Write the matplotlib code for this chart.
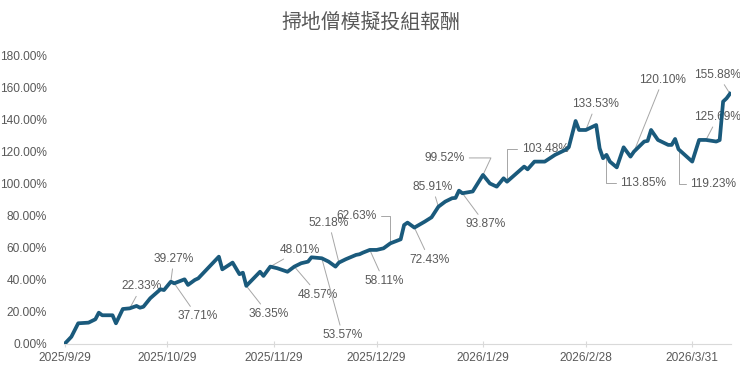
import matplotlib
matplotlib.use("Agg")
import matplotlib.pyplot as plt
import pandas as pd

plt.rcParams['font.family'] = ['Liberation Sans', 'Noto Sans CJK TC', 'DejaVu Sans']

# portfolio cumulative return (%)
dates = [
    "2025-09-29", "2025-10-01", "2025-10-03", "2025-10-06", "2025-10-08", "2025-10-09",
    "2025-10-10", "2025-10-13", "2025-10-14", "2025-10-16", "2025-10-18", "2025-10-20",
    "2025-10-21", "2025-10-22", "2025-10-24", "2025-10-27", "2025-10-28", "2025-10-30",
    "2025-10-31", "2025-11-03", "2025-11-04", "2025-11-06", "2025-11-07", "2025-11-13",
    "2025-11-14", "2025-11-17", "2025-11-19", "2025-11-20", "2025-11-21", "2025-11-25",
    "2025-11-26", "2025-11-28", "2025-11-30", "2025-12-03", "2025-12-05", "2025-12-07",
    "2025-12-09", "2025-12-10", "2025-12-13", "2025-12-15", "2025-12-17", "2025-12-18",
    "2025-12-20", "2025-12-23", "2025-12-24", "2025-12-25", "2025-12-27", "2025-12-29",
    "2025-12-31", "2026-01-02", "2026-01-05", "2026-01-06", "2026-01-07", "2026-01-09",
    "2026-01-12", "2026-01-14", "2026-01-16", "2026-01-18", "2026-01-20", "2026-01-21",
    "2026-01-22", "2026-01-23", "2026-01-26", "2026-01-29", "2026-01-31", "2026-02-02",
    "2026-02-04", "2026-02-05", "2026-02-10", "2026-02-11", "2026-02-13", "2026-02-16",
    "2026-02-19", "2026-02-22", "2026-02-23", "2026-02-25", "2026-02-26", "2026-02-28",
    "2026-03-03", "2026-03-04", "2026-03-05", "2026-03-06", "2026-03-07", "2026-03-09",
    "2026-03-11", "2026-03-13", "2026-03-14", "2026-03-17", "2026-03-18", "2026-03-19",
    "2026-03-21", "2026-03-24", "2026-03-25", "2026-03-26", "2026-03-27", "2026-03-31",
    "2026-04-02", "2026-04-04", "2026-04-07", "2026-04-08", "2026-04-09", "2026-04-10",
    "2026-04-11",
]
returns = [
    0.0, 4.5, 12.9, 13.3, 15.4, 19.5,
    17.9, 17.9, 12.9, 21.8, 22.2, 23.7,
    22.6, 23.2, 28.5, 34.1, 33.6, 38.8,
    37.8, 40.3, 36.8, 39.9, 40.9, 54.4,
    46.5, 50.7, 43.5, 44.4, 36.2, 45.0,
    42.4, 48.2, 47.2, 45.0, 48.2, 50.3,
    51.3, 54.0, 53.4, 51.3, 48.2, 50.7,
    52.8, 55.5, 55.9, 56.9, 58.6, 58.6,
    59.6, 62.7, 65.2, 74.1, 75.6, 72.5,
    76.2, 78.9, 85.5, 88.7, 90.8, 91.0,
    95.5, 93.9, 95.0, 105.3, 100.0, 98.0,
    103.2, 101.1, 110.5, 108.8, 113.6, 113.6,
    117.8, 120.9, 122.5, 138.9, 133.3, 133.3,
    136.4, 121.9, 115.7, 117.8, 113.6, 110.0,
    122.5, 116.7, 119.8, 126.1, 126.5, 133.3,
    127.1, 124.0, 124.0, 127.7, 121.3, 113.6,
    127.1, 127.1, 126.1, 127.0, 151.0, 153.0,
    155.88,
]

# data labels: text and the series date they point at
label_texts = ["22.33%", "39.27%", "37.71%", "36.35%", "48.01%", "48.57%", "53.57%",
               "52.18%", "62.63%", "58.11%", "72.43%", "85.91%", "93.87%", "99.52%",
               "103.48%", "133.53%", "113.85%", "120.10%", "119.23%", "125.69%", "155.88%"]
label_dates = ["2025-10-18", "2025-10-30", "2025-10-31", "2025-11-21", "2025-11-28",
               "2025-12-05", "2025-12-13", "2025-12-18", "2026-01-02", "2025-12-27",
               "2026-01-09", "2026-01-16", "2026-01-23", "2026-01-29", "2026-02-05",
               "2026-02-28", "2026-03-06", "2026-03-14", "2026-03-27", "2026-04-04",
               "2026-04-11"]

tick_dates = ["2025-09-29", "2025-10-29", "2025-11-29", "2025-12-29",
              "2026-01-29", "2026-02-28", "2026-03-31"]

# layout of the labels (pixel offsets of text centre) and leader style
offsets = [(12, 22), (3, 23), (23, -33), (22, -28), (30, 17), (24, -28), (21, -77),
           (-10, 40), (-34, 27), (14, -31), (15, -32), (-6, 20), (23, -31), (-38, 17),
           (38, 33), (10, 26), (37, -28), (29, 72), (35, -35), (12, 23), (-12, 19)]
elbow = {"62.63%": 90, "99.52%": 65, "103.48%": 90, "113.85%": 90, "119.23%": 90}

x = pd.to_datetime(dates)
series = pd.Series(returns, index=x)

fig = plt.figure(figsize=(7.4, 3.74), dpi=100)
ax = fig.add_axes([63.5 / 740, 30 / 374, 667.5 / 740, 289 / 374])

ax.plot(x, returns, color='#1a5a7c', linewidth=2.7, solid_joinstyle='round', zorder=3)

gray = '#595959'
for txt, d, (dx, dy) in zip(label_texts, label_dates, offsets):
    dd = pd.Timestamp(d)
    cs = "arc3"
    if txt in elbow:
        cs = "angle,angleA=0,angleB=%d,rad=0" % elbow[txt]
    ax.annotate(txt, xy=(dd, series[dd]), xytext=(dx, dy), textcoords='offset pixels',
                ha='center', va='center', fontsize=8.6, color=gray, zorder=2,
                arrowprops=dict(arrowstyle='-', color='#a6a6a6', lw=0.7,
                                shrinkA=1, shrinkB=1, connectionstyle=cs))

x0 = pd.Timestamp(dates[0])
ax.set_xlim(x0 - pd.Timedelta(hours=7), x0 + pd.Timedelta(days=194.3))
ax.set_ylim(0, 180)
ax.set_yticks(range(0, 181, 20))
ax.yaxis.set_major_formatter(plt.FuncFormatter(lambda v, p: "%.2f%%" % v))

td = pd.to_datetime(tick_dates)
ax.set_xticks(td)
ax.set_xticklabels(["%d/%d/%d" % (t.year, t.month, t.day) for t in td])

for s in ['top', 'right', 'left']:
    ax.spines[s].set_visible(False)
ax.spines['bottom'].set_color('#d9d9d9')
ax.tick_params(axis='y', length=0, pad=12, labelsize=8.6, labelcolor=gray)
ax.tick_params(axis='x', direction='inout', length=5, color='#d9d9d9',
               pad=3, labelsize=8.6, labelcolor=gray)

fig.text(0.5015, 1 - 22 / 374, "掃地僧模擬投組報酬", ha='center', va='center',
         fontsize=14.3, color=gray, family=['Noto Sans CJK TC'])

fig.savefig("out.png", dpi=100)
